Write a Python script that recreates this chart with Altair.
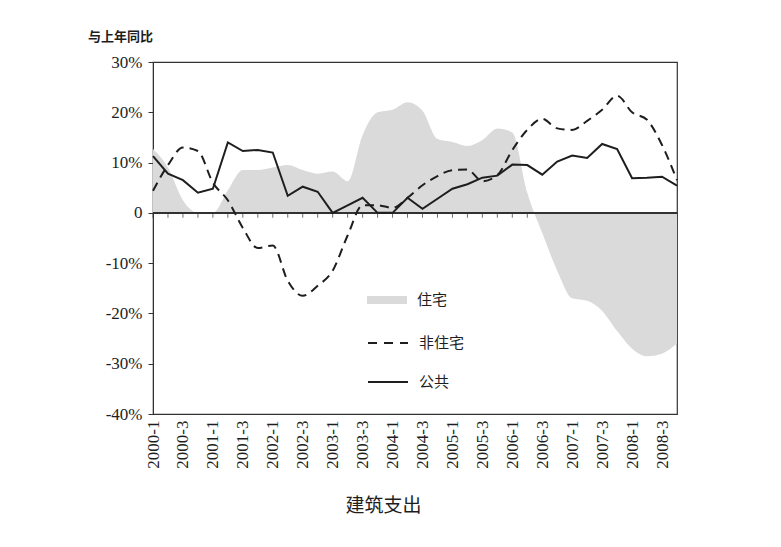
import altair as alt
import pandas as pd

quarters = [
    "2000-1", "2000-2", "2000-3", "2000-4",
    "2001-1", "2001-2", "2001-3", "2001-4",
    "2002-1", "2002-2", "2002-3", "2002-4",
    "2003-1", "2003-2", "2003-3", "2003-4",
    "2004-1", "2004-2", "2004-3", "2004-4",
    "2005-1", "2005-2", "2005-3", "2005-4",
    "2006-1", "2006-2", "2006-3", "2006-4",
    "2007-1", "2007-2", "2007-3", "2007-4",
    "2008-1", "2008-2", "2008-3", "2008-4",
]
tick_labels = [
    "2000-1", "2000-3", "2001-1", "2001-3", "2002-1", "2002-3",
    "2003-1", "2003-3", "2004-1", "2004-3", "2005-1", "2005-3",
    "2006-1", "2006-3", "2007-1", "2007-3", "2008-1", "2008-3",
]
residential = [
    12.7, 9.0, 2.5, 0.0, 0.0, 4.5, 8.5, 8.5, 9.0, 9.5, 8.5, 7.8,
    8.2, 6.3, 15.5, 20.0, 20.5, 22.0, 20.3, 14.7, 14.1, 13.3, 14.5, 16.8,
    16.0, 4.0, -4.0, -11.5, -17.0, -17.5, -19.5, -23.5, -27.0, -28.5, -28.0, -26.0,
]
nonresidential = [
    4.4, 9.5, 13.0, 12.3, 6.0, 2.5, -3.0, -7.0, -6.5, -13.5, -16.5, -14.5,
    -11.5, -4.5, 1.5, 1.5, 1.0, 3.0, 5.5, 7.3, 8.5, 8.6, 6.3, 7.5,
    12.5, 16.5, 18.7, 16.8, 16.5, 18.3, 20.5, 23.3, 20.0, 18.5, 13.5, 6.5,
]
public = [
    11.3, 7.8, 6.5, 4.0, 4.8, 14.0, 12.3, 12.5, 12.0, 3.4, 5.2, 4.2,
    0.0, 1.5, 3.0, 0.0, 0.0, 3.0, 0.8, 2.8, 4.8, 5.7, 7.0, 7.4,
    9.6, 9.5, 7.6, 10.2, 11.4, 10.9, 13.7, 12.7, 6.9, 7.0, 7.2, 5.4,
]
y_ticks = [-40, -30, -20, -10, 0, 10, 20, 30]

df = pd.DataFrame({"quarter": quarters, "res": residential,
                   "nonres": nonresidential, "pub": public})

SERIF = "Liberation Serif, Times New Roman, serif"
CJK = "Noto Sans CJK SC"
INK = "#1e1e1e"

x_axis = alt.Axis(values=tick_labels, labelAngle=-90, ticks=False, domain=False,
                  labelFont=SERIF, labelFontSize=17, labelColor=INK, labelPadding=6,
                  title="建筑支出", titleFont=CJK, titleFontSize=19,
                  titleFontWeight="normal", titleColor=INK,
                  titleX=230, titleY=91, titleAnchor="start", titleAlign="center",
                  titleBaseline="middle")
x_enc = alt.X("quarter:O", sort=quarters,
              scale=alt.Scale(type="point", padding=0), axis=x_axis)

y_axis = alt.Axis(values=y_ticks, grid=False, tickSize=5, tickColor="#333",
                  domainColor="#333", labelFont=SERIF, labelFontSize=17,
                  labelColor=INK, labelPadding=6,
                  labelExpr="datum.value == 0 ? '0' : datum.value + '%'",
                  title="与上年同比", titleFont=CJK, titleFontSize=13,
                  titleFontWeight="bold", titleColor=INK, titleAngle=0,
                  titleAlign="center", titleBaseline="middle",
                  titleX=-33, titleY=-26)
y_scale = alt.Scale(domain=[-40, 30], nice=False, zero=False)


def legend_at(y, **kw):
    return alt.Legend(title=None, orient="none", legendX=214, legendY=y,
                      symbolSize=1600, labelFont=CJK, labelFontSize=15,
                      labelColor=INK, labelOffset=10, padding=0, **kw)


base = alt.Chart(df)

ticks = base.mark_tick(orient="vertical", size=5, thickness=1, yOffset=2.5,
                       color="#333").encode(
    x=x_enc, y=alt.Y("zero:Q", scale=y_scale, axis=y_axis)
).transform_calculate(zero="0")

area = base.mark_area(interpolate="monotone", opacity=1).encode(
    x=x_enc,
    y=alt.Y("res:Q", scale=y_scale, axis=y_axis),
    y2=alt.datum(0),
    fill=alt.Fill("s:N", scale=alt.Scale(domain=["住宅"], range=["#dadada"]),
                  legend=legend_at(218, symbolType="M-1,-0.2H1V0.2H-1Z",
                                   symbolStrokeWidth=0)),
).transform_calculate(s="'住宅'")

zero_rule = base.mark_rule(color="#333", strokeWidth=1).encode(
    y=alt.datum(0)
)

dashed = base.mark_line(interpolate="monotone", strokeDash=[9, 6],
                        strokeWidth=2).encode(
    x=x_enc,
    y=alt.Y("nonres:Q", scale=y_scale, axis=y_axis),
    stroke=alt.Stroke("s:N", scale=alt.Scale(domain=["非住宅"], range=[INK]),
                      legend=legend_at(260, symbolType="stroke", symbolDash=[9, 7],
                                       symbolStrokeWidth=2)),
).transform_calculate(s="'非住宅'")

solid = base.mark_line(strokeWidth=2).encode(
    x=x_enc,
    y=alt.Y("pub:Q", scale=y_scale, axis=y_axis),
    stroke=alt.Stroke("s:N", scale=alt.Scale(domain=["公共"], range=[INK]),
                      legend=legend_at(299, symbolType="stroke",
                                       symbolStrokeWidth=2)),
).transform_calculate(s="'公共'")

chart = alt.layer(ticks, area, zero_rule, dashed, solid).resolve_scale(
    fill="independent", stroke="independent"
).resolve_legend(
    fill="independent", stroke="independent"
).properties(
    width=524, height=352,
    autosize=alt.AutoSizeParams(type="none"),
    padding={"left": 145, "top": 54, "right": 90, "bottom": 110},
    background="white",
).configure_view(stroke="#333", strokeWidth=1.2)

chart.save("out.html", embed_options={"renderer": "svg", "actions": False})
